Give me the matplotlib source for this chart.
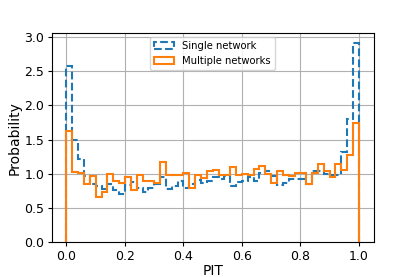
import matplotlib
matplotlib.use("Agg")
import matplotlib.pyplot as plt
import numpy as np

edges = np.linspace(0, 1, 51)
centers = 0.5 * (edges[:-1] + edges[1:])

single = [2.57, 1.50, 1.22, 0.97, 0.85, 0.83, 0.78, 0.85, 0.76, 0.70,
          0.84, 0.88, 0.80, 0.73, 0.79, 0.85, 0.95, 0.78, 0.83, 0.89,
          0.80, 0.86, 0.91, 0.87, 0.89, 0.95, 0.93, 0.97, 0.82, 0.88,
          0.90, 0.95, 0.89, 1.02, 1.05, 0.97, 0.84, 0.87, 0.93, 0.93,
          0.93, 0.85, 1.05, 1.04, 1.00, 0.99, 0.99, 1.32, 1.80, 2.91]

multiple = [1.62, 1.03, 1.01, 0.86, 0.97, 0.67, 0.73, 1.00, 0.89, 0.87,
            0.95, 0.77, 0.99, 0.89, 0.89, 0.87, 1.18, 0.98, 0.98, 0.98,
            1.02, 0.80, 0.98, 0.94, 1.04, 1.06, 0.99, 0.99, 1.10, 0.98,
            1.00, 0.99, 1.07, 1.12, 1.00, 0.87, 1.04, 0.99, 0.97, 1.02,
            1.01, 0.85, 1.01, 1.14, 1.05, 0.96, 1.15, 1.06, 1.28, 1.74]

fig, ax = plt.subplots(figsize=(4.15, 2.77), dpi=100)
fig.subplots_adjust(bottom=0.125)
ax.hist(centers, bins=edges, weights=single, histtype='step',
        linestyle='--', linewidth=1.5, label='Single network')
ax.hist(centers, bins=edges, weights=multiple, histtype='step',
        linewidth=1.5, label='Multiple networks')
ax.grid(True)
ax.tick_params(labelsize=9, length=3, pad=2.5)
ax.set_xlabel('PIT', fontsize=10, labelpad=0.5)
ax.set_ylabel('Probability', fontsize=10, labelpad=2)
ax.legend(loc='upper center', fontsize=7.2, borderaxespad=0.4)

plt.savefig('out.png', dpi=100)
